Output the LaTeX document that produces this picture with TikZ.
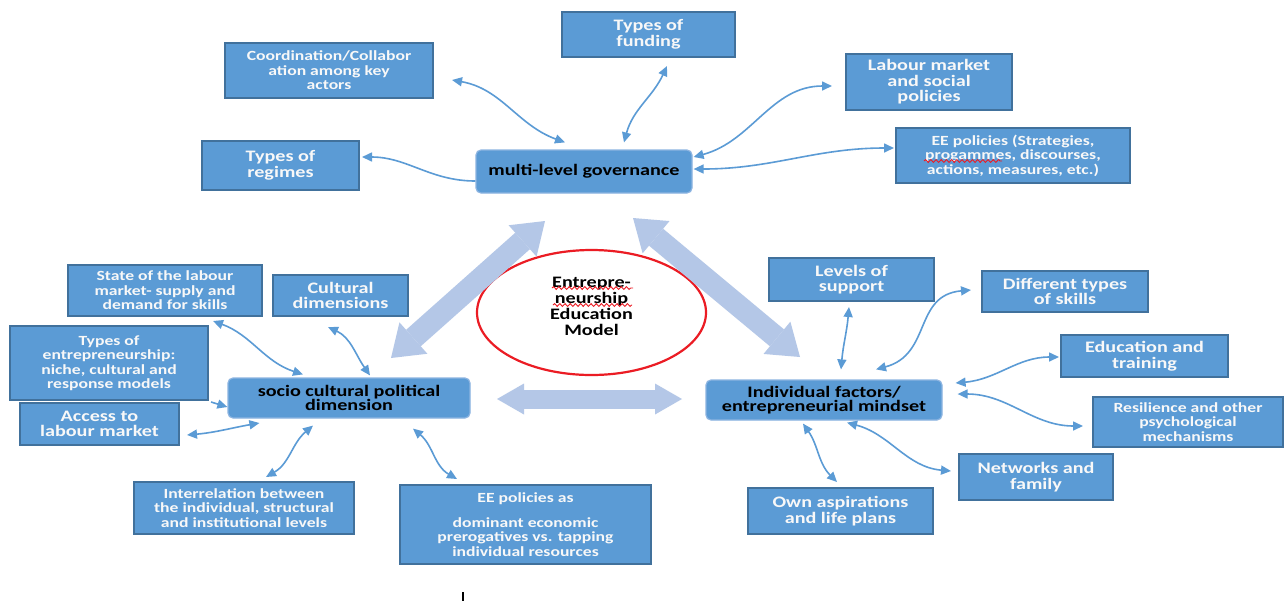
\documentclass[tikz,border=0pt]{standalone}
\usepackage{fontspec}
\setmainfont{Carlito}[FakeStretch=1.26]
\usetikzlibrary{arrows.meta,shapes.geometric,decorations.pathmorphing}
\definecolor{boxblue}{RGB}{91,155,213}
\definecolor{leafborder}{RGB}{65,113,156}
\definecolor{hubborder}{RGB}{140,180,225}
\definecolor{bigblue}{RGB}{180,199,231}
\definecolor{leaftext}{RGB}{248,248,248}
\definecolor{ellred}{RGB}{235,28,36}
\begin{document}
\begin{tikzpicture}[x=0.5pt,y=0.5pt,
  leaf/.style={draw=leafborder, line width=1pt, fill=boxblue, text=leaftext, align=center, inner sep=0pt, font=\bfseries\fontsize{8}{7.8}\selectfont},
  smalltext/.style={font=\bfseries\fontsize{7}{7.25}\selectfont},
  hub/.style={draw=hubborder, line width=0.6pt, fill=boxblue, rounded corners=2.5pt, text=black, align=center, inner sep=0pt, font=\bfseries\fontsize{8}{7}\selectfont},
  sz/.style 2 args={minimum width=#1*0.5pt, minimum height=#2*0.5pt},
  link/.style={draw=boxblue, line width=0.8pt, >={Triangle[length=5pt,width=4.5pt]}, <->},
  onelink/.style={draw=boxblue, line width=0.8pt, >={Triangle[length=5pt,width=4.5pt]}, ->},
  bigdiag/.style={draw=bigblue, line width=11pt, >={Triangle[length=15pt,width=21pt,line width=0pt]}, <->},
  bighor/.style={draw=bigblue, line width=9.5pt, >={Triangle[length=13.5pt,width=15.5pt,line width=0pt]}, <->},
  squig/.style={draw=ellred, line width=0.45pt, decorate, decoration={snake, amplitude=0.7pt, segment length=2.6pt}}
]
\useasboundingbox (0,0) rectangle (1284,-601);
\fill[white] (0,0) rectangle (1284,-601);

% hubs
\node[hub,sz={216}{43}] (mlg) at (584,-171.5) {multi-level governance};
\node[hub,sz={242}{40}] (scp) at (349,-398) {socio cultural political\\dimension};
\node[hub,sz={236}{40}] (ind) at (824,-400) {Individual factors/\\entrepreneurial mindset};

% leaves around multi-level governance
\node[leaf,smalltext,sz={208}{55}] (coord) at (329,-70.5) {Coordination/Collabor\\ation among key\\actors};
\node[leaf,sz={173}{45}] (fund) at (648.5,-34.5) {Types of\\funding};
\node[leaf,sz={166}{56}] (labour) at (929,-82) {Labour market\\and social\\policies};
\node[leaf,sz={157}{49}] (regimes) at (280.5,-165.5) {Types of\\regimes};
\node[leaf,smalltext,sz={234}{55}] (eepol) at (1013,-155.5) {EE policies (Strategies,\\progammes, discourses,\\actions, measures, etc.)};

% leaves around socio cultural political dimension
\node[leaf,smalltext,sz={194}{51}] (state) at (165,-290.5) {State of the labour\\market- supply and\\demand for skills};
\node[leaf,sz={135}{41}] (cult) at (340.5,-295.5) {Cultural\\dimensions};
\node[leaf,smalltext,sz={198}{74}] (typent) at (109,-363) {Types of\\entrepreneurship:\\niche, cultural and\\response models};
\node[leaf,sz={159}{42}] (access) at (99.5,-424) {Access to\\labour market};
\node[leaf,smalltext,sz={220}{52}] (inter) at (244,-508) {Interrelation between\\the individual, structural\\and institutional levels};
\node[leaf,smalltext,sz={251}{79}] (eeas) at (525.5,-524.5) {EE policies as\\[5pt]dominant economic\\prerogatives vs. tapping\\individual resources};

% leaves around individual factors
\node[leaf,sz={165}{43}] (levels) at (851.5,-279.5) {Levels of\\support};
\node[leaf,sz={166}{41}] (skills) at (1065,-291.5) {Different types\\of skills};
\node[leaf,sz={167}{42}] (edu) at (1144.5,-356) {Education and\\training};
\node[leaf,smalltext,sz={190}{50}] (resil) at (1188,-422) {Resilience and other\\psychological\\mechanisms};
\node[leaf,sz={154}{46}] (net) at (1036,-477) {Networks and\\family};
\node[leaf,sz={185}{46}] (own) at (840.5,-511) {Own aspirations\\and life plans};

% centre ellipse
\node[draw=ellred, line width=1.1pt, ellipse, fill=white, minimum width=114.5pt, minimum height=62.5pt, inner sep=0pt] (eem) at (591.5,-312.5) {};
\node[font=\bfseries\fontsize{8}{8}\selectfont, align=center, inner sep=0pt] (eemtext) at (591.5,-306) {Entrepre-\\neurship\\Education\\Model};
\draw[squig] ([shift={(-39.5,18)}]eemtext.center) -- ([shift={(41.5,18)}]eemtext.center);
\draw[squig] ([shift={(-38.5,1)}]eemtext.center) -- ([shift={(40.5,1)}]eemtext.center);
\draw[squig] ([shift={(-89,-5.5)}]eepol.center) -- ([shift={(-11,-5.5)}]eepol.center);

% big arrows between the three dimensions
\coordinate (bl1) at (545,-221);
\coordinate (bl2) at (391,-358);
\coordinate (br1) at (633,-218);
\coordinate (br2) at (800,-357);
\coordinate (bh1) at (497,-399);
\coordinate (bh2) at (682,-399);
\draw[bigdiag] (bl2) -- (bl1);
\draw[bigdiag] (br1) -- (br2);
\draw[bighor] (bh1) -- (bh2);

% connectors: multi-level governance
\draw[link] ([shift={(18,-9.5)}]coord.east) to[out=-10,in=160] ([shift={(-19,7)}]mlg.north);
\draw[link] ([shift={(40,7)}]mlg.north) to[out=75,in=-115] ([shift={(18.5,-8)}]fund.south);
\draw[link] ([shift={(1,14.5)}]mlg.east) to[out=15,in=180] ([shift={(-13,-4)}]labour.west);
\draw[link] ([shift={(1,2.5)}]mlg.east) to[out=0,in=180] ([shift={(-1,7.5)}]eepol.west);
\draw[onelink] ([shift={(0,-9.5)}]mlg.west) to[out=180,in=0] ([shift={(2,8.5)}]regimes.east);

% connectors: socio cultural political dimension
\draw[link] ([shift={(48,-4)}]state.south) to[out=-20,in=162] ([shift={(-46,3)}]scp.north);
\draw[link] ([shift={(-12.5,-10)}]cult.south) to[out=-25,in=125] ([shift={(21,2)}]scp.north);
\draw[onelink] ([shift={(2,-39)}]typent.east) -- ([shift={(0,-9)}]scp.west);
\draw[link] ([shift={(7,-11)}]access.east) to[out=5,in=190] ([shift={(32,-25)}]scp.west);
\draw[link] ([shift={(22,4)}]inter.north) to[out=30,in=-140] ([shift={(-36,-7)}]scp.south);
\draw[link] ([shift={(64,-10)}]scp.south) to[out=-40,in=150] ([shift={(-68.5,5)}]eeas.north);

% connectors: individual factors
\draw[link] ([shift={(-2.5,-5)}]levels.south) to[out=-95,in=85] ([shift={(17,10)}]ind.north);
\draw[link] ([shift={(-10,1.5)}]skills.west) to[out=185,in=15,looseness=1.2] ([shift={(52,10)}]ind.north);
\draw[link] ([shift={(13,17)}]ind.east) to[out=5,in=180] ([shift={(-1,-1)}]edu.west);
\draw[link] ([shift={(15,6)}]ind.east) to[out=0,in=180] ([shift={(-9,-4)}]resil.west);
\draw[link] ([shift={(-21,-3)}]ind.south) to[out=-55,in=135] ([shift={(-3.5,5)}]own.north);
\draw[link] ([shift={(23,-2)}]ind.south) to[out=-15,in=175] ([shift={(-7,6)}]net.west);

% small text cursor mark
\draw[line width=0.6pt] (463,-592) -- (463,-601);
\end{tikzpicture}
\end{document}
